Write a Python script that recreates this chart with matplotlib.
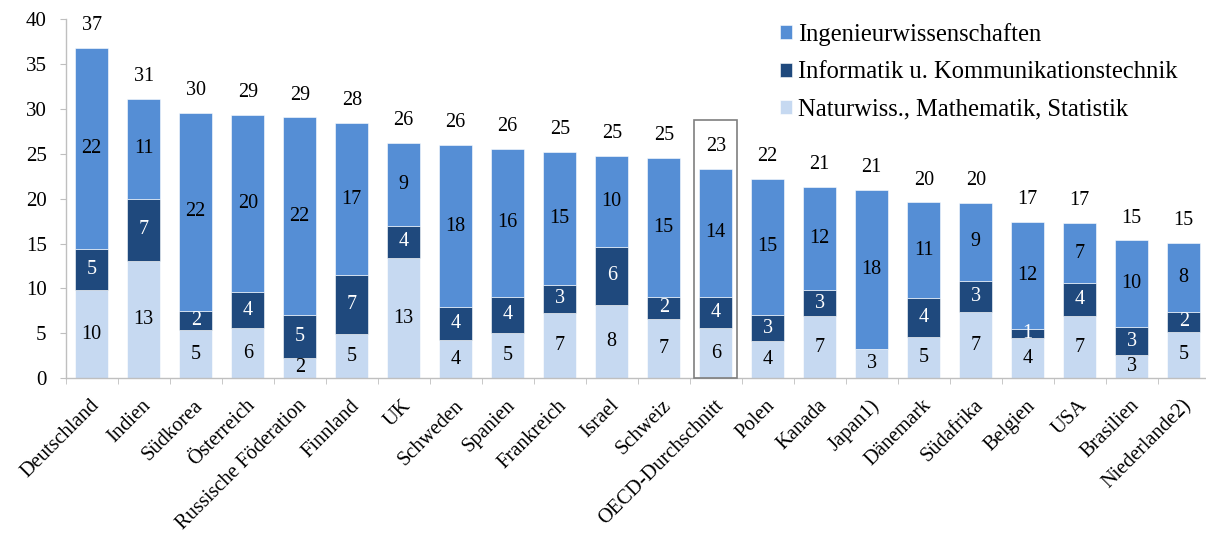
import matplotlib
matplotlib.use("Agg")
import matplotlib.pyplot as plt
import numpy as np
from matplotlib.patches import Rectangle
from matplotlib.transforms import ScaledTranslation

plt.rcParams['font.family'] = ['Liberation Serif', 'DejaVu Serif']

# Daten (Anteile in %)
laender = ["Deutschland", "Indien", "Südkorea", "Österreich", "Russische Föderation",
           "Finnland", "UK", "Schweden", "Spanien", "Frankreich", "Israel", "Schweiz",
           "OECD-Durchschnitt", "Polen", "Kanada", "Japan1)", "Dänemark", "Südafrika",
           "Belgien", "USA", "Brasilien", "Niederlande2)"]
naturwiss = [9.8, 13.1, 5.35, 5.6, 2.3, 4.9, 13.4, 4.3, 5.0, 7.3, 8.2, 6.65,
             5.55, 4.1, 6.9, 3.3, 4.55, 7.4, 4.45, 6.9, 2.55, 5.2]
informatik = [4.6, 6.9, 2.15, 4.0, 4.75, 6.6, 3.6, 3.6, 4.1, 3.1, 6.4, 2.45,
              3.55, 3.0, 2.9, 0.0, 4.35, 3.45, 1.05, 3.7, 3.2, 2.15]
ingenieur = [22.4, 11.1, 22.05, 19.7, 22.0, 16.9, 9.2, 18.1, 16.45, 14.8, 10.2, 15.45,
             14.2, 15.1, 11.55, 17.7, 10.7, 8.7, 11.9, 6.7, 9.6, 7.75]

c_nat = "#C6D9F1"
c_inf = "#1F497D"
c_ing = "#558ED5"

nat = np.array(naturwiss)
inf = np.array(informatik)
ing = np.array(ingenieur)
gesamt = nat + inf + ing
x = np.arange(len(laender))

fig = plt.figure(figsize=(12.06, 5.38), dpi=100)
ax = fig.add_axes([0.0545, 0.2968, 0.9486, 0.6679])

b1 = ax.bar(x, nat, 0.64, color=c_nat, edgecolor="white", linewidth=0.4,
            label="Naturwiss., Mathematik, Statistik")
b2 = ax.bar(x, inf, 0.64, bottom=nat, color=c_inf, edgecolor="white", linewidth=0.4,
            label="Informatik u. Kommunikationstechnik")
b3 = ax.bar(x, ing, 0.64, bottom=nat + inf, color=c_ing, edgecolor="white", linewidth=0.4,
            label="Ingenieurwissenschaften")

fs = 14.5
# Werte in den Segmenten
for i in range(len(x)):
    ax.text(x[i], nat[i] / 2, "%d" % round(nat[i]), ha="center", va="center",
            fontsize=fs, color="black")
    if inf[i] > 0:
        ax.text(x[i], nat[i] + inf[i] / 2, "%d" % round(inf[i]), ha="center",
                va="center", fontsize=fs, color="white")
    ax.text(x[i], nat[i] + inf[i] + ing[i] / 2, "%d" % round(ing[i]), ha="center",
            va="center", fontsize=fs, color="black")
    ax.annotate("%d" % round(gesamt[i]), (x[i], gesamt[i]), xytext=(0, 16),
                textcoords="offset points", ha="center", va="center", fontsize=fs)

# Rahmen um OECD-Durchschnitt
oecd = laender.index("OECD-Durchschnitt")
ax.add_patch(Rectangle((oecd - 0.415, 0), 0.83, 28.8, fill=False,
                       edgecolor="#7F7F7F", linewidth=1.2, clip_on=False, zorder=5))

ax.set_xlim(-0.5, len(x) - 0.5)
ax.set_ylim(0, 40)
ax.set_yticks(range(0, 41, 5))
ax.tick_params(axis="y", labelsize=15, length=4.3, color="#BFBFBF", pad=9.5)
ax.set_xticks(x)
ax.set_xticklabels(laender, rotation=45, ha="right", va="top",
                   rotation_mode="anchor", fontsize=14.8)
ax.tick_params(axis="x", length=0, pad=10)
ax.set_xticks(np.arange(-0.5, len(x), 1.0), minor=True)
ax.tick_params(axis="x", which="minor", length=4.5, color="#BFBFBF")
verschiebung = ScaledTranslation(-0.02, -0.04, fig.dpi_scale_trans)
for lbl in ax.get_xticklabels():
    lbl.set_transform(lbl.get_transform() + verschiebung)

for s in ["top", "right"]:
    ax.spines[s].set_visible(False)
for s in ["left", "bottom"]:
    ax.spines[s].set_color("#BFBFBF")
    ax.spines[s].set_linewidth(1.0)

ax.legend(handles=[b3, b2, b1], loc="upper left", bbox_to_anchor=(0.605, 1.05),
          frameon=False, fontsize=17.7, handlelength=0.5, handleheight=0.5,
          handletextpad=0.25, labelspacing=0.62)

fig.savefig("out.png", dpi=100)
